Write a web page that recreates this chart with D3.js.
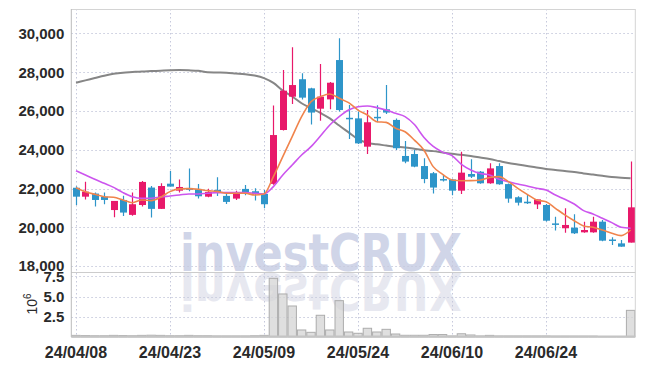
<!DOCTYPE html>
<html><head><meta charset="utf-8">
<script src="https://cdn.jsdelivr.net/npm/d3@7"></script>
<style>body{margin:0;background:#fff}svg{display:block}</style>
</head><body><svg id="c" width="645" height="366"></svg>
<script>
const dates = ["24/04/08","24/04/09","24/04/11","24/04/12","24/04/15","24/04/16","24/04/17","24/04/18","24/04/19","24/04/22",
"24/04/23","24/04/24","24/04/25","24/04/26","24/04/29","24/04/30","24/05/02","24/05/03","24/05/07","24/05/08",
"24/05/09","24/05/10","24/05/13","24/05/14","24/05/16","24/05/17","24/05/20","24/05/21","24/05/22","24/05/23",
"24/05/24","24/05/27","24/05/28","24/05/29","24/05/30","24/05/31","24/06/03","24/06/04","24/06/05","24/06/07",
"24/06/10","24/06/11","24/06/12","24/06/13","24/06/14","24/06/17","24/06/18","24/06/19","24/06/20","24/06/21",
"24/06/24","24/06/25","24/06/26","24/06/27","24/06/28","24/07/01","24/07/02","24/07/03","24/07/04","24/07/05"];
const open  = [22040,21580,21740,21580,20890,21410,20640,21150,22050,20950, 22250,21890,22030,21980,21580,21930,21620,21480,21980,21860,
               21720,22240,25020,26740,27640,27170,26120,26600,28630,25650, 25620,24160,25700,26090,25540,23680,23780,23160,22790,22490,
               22470,21890,22750,22870,22270,23160,22230,21550,21320,21180, 21150,20200,19950,19980,19740,19740,20290,19370,19170,19210];
const high  = [22120,22350,21790,21800,21360,21630,21800,22390,22130,22270, 22900,22470,23040,22230,21990,22580,21750,21890,22180,22010,
               21930,26290,28120,29290,27950,27200,28430,27500,29750,26310, 25970,26050,26300,27340,25620,24450,24000,23560,22850,22700,
               22500,23900,23510,22900,23300,23300,22260,21600,21670,21440, 21200,20550,20980,20670,20290,20550,20380,19480,19350,23390];
const low   = [21150,21440,21070,21190,20520,20580,20600,21070,20500,20950, 22100,21790,21860,21480,21550,21620,21200,21410,21650,21380,
               20980,22200,25000,26360,26600,25310,25500,26090,25970,24560, 24300,23780,25420,25850,23990,23300,23100,22270,21750,22360,
               21650,21720,22540,22250,22250,22200,21270,21130,21200,20940, 20300,19830,19720,19650,19720,19720,19280,19090,18990,19210];
const close = [21580,21840,21410,21410,21360,20760,21190,22340,20950,22130, 22100,22080,21930,21600,21820,21790,21310,21740,21790,21720,
               21190,24760,27050,27340,26690,25920,26740,27460,26050,25600, 24330,25420,25660,25920,24080,23390,23130,22490,22050,22460,
               21890,22820,22610,22270,23040,22220,21480,21270,21240,21440, 20340,20170,20120,19690,19860,20290,19310,19340,19000,21030];
const ma5   = [22045,21840,21700,21580,21550,21410,21270,21410,21375,21550, 21840,21980,21995,21960,21890,21855,21755,21755,21755,21670,
               21720,22610,23645,24680,25710,26480,26740,26880,26655,26430, 26050,25795,25450,25415,25110,24930,24500,23990,23130,22730,
               22440,22400,22406,22440,22570,22612,22354,22010,21700,21410, 21320,20980,20640,20340,20070,20000,19860,19690,19570,19860];
const ma20  = [22920,22700,22475,22270,22060,21790,21580,21495,21495,21565, 21615,21667,21720,21720,21753,21787,21787,21787,21787,21753,
               21720,22100,22700,23215,23730,24160,24710,25280,25710,26050, 26220,26260,26175,26050,25880,25710,25300,24650,24170,23880,
               23700,23250,22960,22780,22700,22475,22355,22235,22130,22010, 21925,21667,21443,21203,20860,20690,20463,20240,20000,19950];
const ma120 = [27460,27580,27700,27820,27920,27980,28010,28040,28060,28080, 28100,28110,28100,28080,28000,27990,27980,27940,27900,27830,
               27700,27450,27050,26750,26400,26150,25900,25620,25250,24900, 24550,24350,24280,24220,24160,24120,24050,23980,23930,23860,
               23790,23740,23680,23600,23520,23420,23320,23240,23160,23080, 23010,22960,22900,22850,22780,22720,22660,22600,22560,22530];
const volume = [0.2,0.18,0.15,0.15,0.2,0.18,0.15,0.2,0.22,0.2, 0.15,0.15,0.2,0.15,0.15,0.12,0.12,0.12,0.12,0.15,
                0.2,7.27,5.33,3.84,0.87,0.58,2.69,0.87,4.5,0.62, 0.46,1.08,0.62,0.95,0.37,0.21,0.21,0.21,0.3,0.3,
                0.12,0.4,0.25,0.12,0.2,0.12,0.12,0.12,0.12,0.12, 0.12,0.1,0.1,0.1,0.1,0.1,0.06,0.06,0.06,3.3];
const priceTicks = [18000,20000,22000,24000,26000,28000,30000];
const volTicks = [2.5,5.0,7.5];
const dateTicks = ["24/04/08","24/04/23","24/05/09","24/05/24","24/06/10","24/06/24"];

const svg = d3.select("#c");
const L = 71.3, R = 635.3, T = 9, MID = 272, B = 337;
const x = d3.scaleBand().domain(dates).range([L, R]).padding(0);
const cx = d => x(d) + x.bandwidth()/2;
const y = d3.scaleLinear().domain([17693, 31264]).range([MID, T]);
const yv = d3.scaleLinear().domain([0, 8.05]).range([B, MID]);
const font = "'Liberation Sans Narrow','Liberation Sans',sans-serif";
const UP = "#e8196a", DOWN = "#2e95c9";

// watermark
const defs = svg.append("defs");
const wmFont = "'DejaVu Sans',Arial,sans-serif";
svg.append("text").attr("x",180).attr("y",271).attr("textLength",282).attr("lengthAdjust","spacingAndGlyphs")
  .attr("font-family",wmFont).attr("font-weight","bold").attr("font-size",52)
  .attr("fill","#d0d5e8").text("investCRUX");
svg.append("text").attr("x",180).attr("y",271).attr("textLength",282).attr("lengthAdjust","spacingAndGlyphs")
  .attr("transform","translate(0,544) scale(1,-1)")
  .attr("font-family",wmFont).attr("font-weight","bold").attr("font-size",52)
  .attr("fill","#e7e8f0").text("investCRUX");

// gridlines
const gc = "#c6c9dc";
svg.append("g").selectAll("line").data(priceTicks).join("line")
  .attr("x1",L).attr("x2",R).attr("y1",d=>Math.round(y(d))+0.5).attr("y2",d=>Math.round(y(d))+0.5)
  .attr("stroke",gc).attr("stroke-dasharray","1.5,2.5");
svg.append("g").selectAll("line").data(volTicks).join("line")
  .attr("x1",L).attr("x2",R).attr("y1",d=>Math.round(yv(d))+0.5).attr("y2",d=>Math.round(yv(d))+0.5)
  .attr("stroke",gc).attr("stroke-dasharray","1.5,2.5");
svg.append("g").selectAll("line").data(dateTicks).join("line")
  .attr("x1",d=>Math.round(cx(d))+0.5).attr("x2",d=>Math.round(cx(d))+0.5).attr("y1",T).attr("y2",B)
  .attr("stroke",gc).attr("stroke-dasharray","1.5,2.5");

// volume bars
svg.append("g").selectAll("rect").data(dates).join("rect")
  .attr("x",d=>x(d)+0.5).attr("width",x.bandwidth()-1)
  .attr("y",(d,i)=>yv(volume[i])).attr("height",(d,i)=>B-yv(volume[i]))
  .attr("fill","#d4d4d4").attr("fill-opacity",0.75).attr("stroke","#acacac").attr("stroke-width",1);

// MA lines
const clip = defs.append("clipPath").attr("id","pc");
clip.append("rect").attr("x",L).attr("y",T).attr("width",R-L).attr("height",MID-T);
const lineOf = arr => d3.line().x((d,i)=>cx(dates[i])).y(d=>y(d)).curve(d3.curveMonotoneX)(arr);
const pg = svg.append("g").attr("clip-path","url(#pc)");
pg.append("path").attr("d",lineOf(ma120)).attr("fill","none").attr("stroke","#868686").attr("stroke-width",2);

// candles
const cg = pg.append("g");
dates.forEach((d,i)=>{
  const up = close[i] >= open[i];
  const col = up ? UP : DOWN;
  const xc = Math.round(cx(d)) + 0.5;
  cg.append("line").attr("x1",xc).attr("x2",xc).attr("y1",y(high[i])).attr("y2",y(low[i])).attr("stroke",col).attr("stroke-width",1.2);
  const top = y(Math.max(open[i],close[i])), bot = y(Math.min(open[i],close[i]));
  cg.append("rect").attr("x",xc-3.5).attr("width",7).attr("y",top).attr("height",Math.max(1.5,bot-top)).attr("fill",col);
});
pg.append("path").attr("d",lineOf(ma20)).attr("fill","none").attr("stroke","#cc55ee").attr("stroke-width",1.6);
pg.append("path").attr("d",lineOf(ma5)).attr("fill","none").attr("stroke","#f0844c").attr("stroke-width",1.6);

// frame
svg.append("line").attr("x1",L).attr("x2",R).attr("y1",T+0.5).attr("y2",T+0.5).attr("stroke","#d4d4d4");
svg.append("line").attr("x1",R).attr("x2",R).attr("y1",T).attr("y2",B).attr("stroke","#d4d4d4");
svg.append("line").attr("x1",L).attr("x2",R).attr("y1",MID+0.5).attr("y2",MID+0.5).attr("stroke","#cccccc").attr("stroke-width",1.2);
svg.append("line").attr("x1",L).attr("x2",L).attr("y1",T).attr("y2",B).attr("stroke","#bbbbbb");
svg.append("line").attr("x1",L).attr("x2",R).attr("y1",B-0.5).attr("y2",B-0.5).attr("stroke","#c4c4c4").attr("stroke-width",2);

// axes labels
const yAxis = d3.axisLeft(y).tickValues(priceTicks).tickFormat(d3.format(",")).tickSize(0).tickPadding(7);
const ya = svg.append("g").attr("transform",`translate(${L},0)`).call(yAxis);
ya.select(".domain").remove();
ya.selectAll("text").attr("font-family",font).attr("font-weight","bold").attr("font-size",15).attr("fill","#2a2a2a");
const vAxis = d3.axisLeft(yv).tickValues(volTicks).tickFormat(d3.format(".1f")).tickSize(0).tickPadding(7);
const va = svg.append("g").attr("transform",`translate(${L},0)`).call(vAxis);
va.select(".domain").remove();
va.selectAll("text").attr("font-family",font).attr("font-weight","bold").attr("font-size",15).attr("fill","#2a2a2a");
const xAxis = d3.axisBottom(x).tickValues(dateTicks).tickSize(0).tickPadding(10);
const xa = svg.append("g").attr("transform",`translate(0,${B})`).call(xAxis);
xa.select(".domain").remove();
xa.selectAll("text").attr("font-family",font).attr("font-weight","bold").attr("font-size",16).attr("fill","#2a2a2a");

const unit = svg.append("text").attr("transform","translate(37,304) rotate(-90)")
  .attr("font-family",font).attr("font-size",14).attr("fill","#2a2a2a").attr("text-anchor","middle");
unit.append("tspan").text("10");
unit.append("tspan").attr("dy",-6).attr("font-size",10).text("6");
</script></body></html>
